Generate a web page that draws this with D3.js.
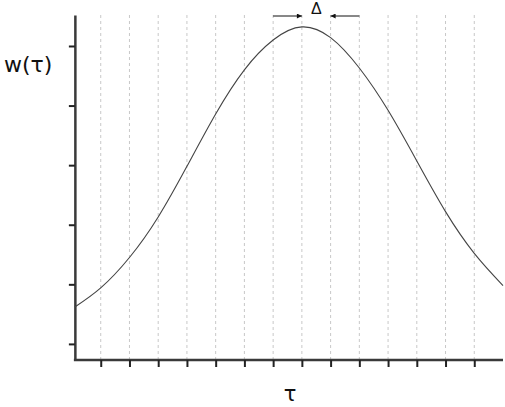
<!DOCTYPE html>
<html>
<head>
<meta charset="utf-8">
<script src="https://cdn.jsdelivr.net/npm/d3@7"></script>
<style>
  body { margin: 0; background: #fff; }
  svg { display: block; }
</style>
</head>
<body>
<svg></svg>
<script>
// curve: tau position (in tick units) and w value (in y tick units)
const tauValues = [0.1, 1, 2, 3, 4, 5, 6, 7, 8, 9, 10, 11, 12, 13, 14, 15];
const wValues = [0.62, 0.94, 1.45, 2.13, 2.98, 3.86, 4.6, 5.1, 5.32, 5.14, 4.63, 3.92, 3.07, 2.22, 1.52, 0.98];
const xTicks = [1, 2, 3, 4, 5, 6, 7, 8, 9, 10, 11, 12, 13, 14];
const yTicks = [0, 1, 2, 3, 4, 5];
// delta marker: arrow tails and heads (tau units)
const deltaLeft = [7, 8];
const deltaRight = [10, 9];

const width = 505;
const height = 407;
let svg = d3.select("svg").attr("width", width).attr("height", height);

let xScale = d3.scaleLinear().domain([0, 15]).range([72, 503]);
let yScale = d3.scaleLinear().domain([-0.27, 5.52]).range([360, 15]);
const x0 = xScale(0.1);

// dashed grid
svg.append("g")
  .selectAll("line")
  .data(xTicks)
  .join("line")
    .attr("x1", d => xScale(d)).attr("x2", d => xScale(d))
    .attr("y1", yScale(5.52)).attr("y2", yScale(-0.27))
    .attr("stroke", "#c8c8c8")
    .attr("stroke-width", 1)
    .attr("stroke-dasharray", "3,3");

// axes
let xAxis = d3.axisBottom(xScale).tickValues(xTicks).tickSize(7).tickSizeOuter(0).tickFormat("");
let yAxis = d3.axisLeft(yScale).tickValues(yTicks).tickSize(6).tickSizeOuter(0).tickFormat("");

let gx = svg.append("g")
  .attr("transform", `translate(0, ${yScale(-0.27)})`)
  .call(xAxis);
let gy = svg.append("g")
  .attr("transform", `translate(${x0}, 0)`)
  .call(yAxis);

gx.select(".domain").attr("d", `M${x0 - 1},0H${xScale(15)}`);
[gx, gy].forEach(g => {
  g.select(".domain").attr("stroke", "#3a3a3a").attr("stroke-width", 2.5);
  g.selectAll(".tick line").attr("stroke", "#222").attr("stroke-width", 2);
});

// curve
let line = d3.line()
  .x((d, i) => xScale(tauValues[i]))
  .y(d => yScale(d))
  .curve(d3.curveNatural);

svg.append("path")
  .datum(wValues)
  .attr("d", line)
  .attr("fill", "none")
  .attr("stroke", "#444")
  .attr("stroke-width", 1.1);

// arrows
svg.append("defs").append("marker")
  .attr("id", "head")
  .attr("viewBox", "0 0 10 10")
  .attr("refX", 10).attr("refY", 5)
  .attr("markerWidth", 10).attr("markerHeight", 5)
  .attr("markerUnits", "userSpaceOnUse")
  .attr("orient", "auto")
  .append("path")
    .attr("d", "M0,0L10,5L0,10Z")
    .attr("fill", "#111");

const arrowY = 16;
[deltaLeft, deltaRight].forEach(a => {
  svg.append("line")
    .attr("x1", xScale(a[0])).attr("x2", xScale(a[1]))
    .attr("y1", arrowY).attr("y2", arrowY)
    .attr("stroke", "#111")
    .attr("stroke-width", 1)
    .attr("marker-end", "url(#head)");
});

svg.append("text")
  .attr("x", xScale(8.5))
  .attr("y", 14)
  .attr("text-anchor", "middle")
  .attr("font-family", "Liberation Sans")
  .attr("font-size", 16)
  .attr("fill", "#111")
  .text("Δ");

// axis labels
svg.append("text")
  .attr("x", 4)
  .attr("y", 72)
  .attr("font-family", "DejaVu Sans")
  .attr("font-size", 22)
  .attr("fill", "#111")
  .text("w(τ)");

svg.append("text")
  .attr("x", 290)
  .attr("y", 401)
  .attr("text-anchor", "middle")
  .attr("font-family", "DejaVu Sans")
  .attr("font-size", 21)
  .attr("fill", "#111")
  .text("τ");
</script>
</body>
</html>
